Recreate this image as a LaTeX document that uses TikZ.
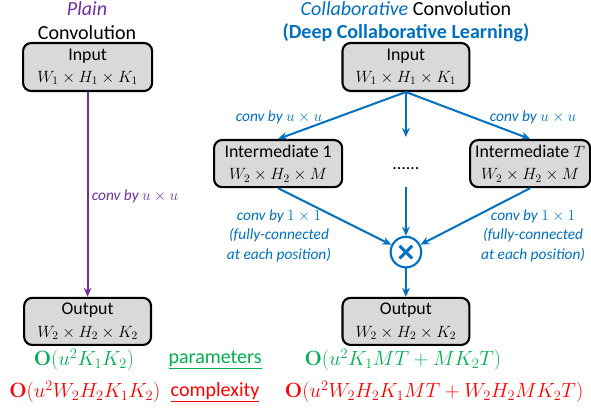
\RequirePackage{fix-cm}
\documentclass[tikz,border=0pt]{standalone}
\usepackage[no-math]{fontspec}
\setmainfont{Carlito}
\usetikzlibrary{arrows.meta}

\definecolor{collblue}{HTML}{0070C0}
\definecolor{plainpurple}{HTML}{7030A0}
\definecolor{paramgreen}{HTML}{00B050}
\definecolor{cplxred}{HTML}{FF0000}
\definecolor{boxgray}{HTML}{D9D9D9}

% Formel in eigener Groesse
\newcommand{\sizedmath}[2]{{\fontsize{#1}{#1}\selectfont$#2$}}

\begin{document}
\begin{tikzpicture}[
	databox/.style={
		draw,
		line width=2pt,
		fill=boxgray,
		rounded corners=0.27cm,
		align=center,
		inner sep=0pt,
		minimum height=1.57cm,
		font=\fontsize{16.9}{21}\selectfont
	},
	headline/.style={
		font=\fontsize{19}{22}\selectfont
	},
	convlabel/.style={
		align=center,
		font=\fontsize{14.6}{18.6}\selectfont\itshape
	},
	costline/.style={
		font=\fontsize{19}{22}\selectfont
	},
	flow/.style={
		line width=1.9pt,
		-{Stealth[length=0.3cm,width=0.26cm]}
	}
]
	\useasboundingbox (0,0) rectangle (19.7,13.733);

	% Ueberschriften
	\node[
		headline,
		color=plainpurple
	] (plainT) at (2.9,13.43) {\itshape Plain};
	\node[
		headline
	] (plainC) at (2.9,12.63) {Convolution};
	\node[
		headline
	] (collT) at (13.53,13.43) {\textcolor{collblue}{\itshape Collaborative} Convolution};
	\node[
		headline,
		color=collblue
	] (collD) at (13.53,12.63) {\bfseries (Deep Collaborative Learning)};

	% Eingaben
	\node[
		databox,
		minimum width=4.3cm,
		minimum height=1.6cm
	] (inL) at (2.92,11.5) {Input\\\sizedmath{15.5}{W_1\times H_1\times K_1}};
	\node[
		databox,
		minimum width=4.23cm,
		minimum height=1.6cm
	] (inR) at (13.53,11.5) {Input\\\sizedmath{15.5}{W_1\times H_1\times K_1}};

	% Zwischenergebnisse
	\node[
		databox,
		minimum width=4.27cm
	] (mid1) at (9.27,8.28) {Intermediate 1\\\sizedmath{15.5}{W_2\times H_2\times M}};
	\node[
		databox,
		minimum width=4.0cm
	] (midT) at (17.67,8.28) {Intermediate \sizedmath{15.5}{T}\\\sizedmath{15.5}{W_2\times H_2\times M}};
	\node[
		font=\fontsize{16.9}{21}\selectfont
	] (dots) at (13.53,8.13) {......};
	\coordinate (dotTop) at (13.53,9.17);
	\coordinate (dotBot) at (13.53,7.5);

	% Produkt
	\node[
		circle,
		draw=collblue,
		line width=2pt,
		minimum size=1.02cm,
		inner sep=0pt
	] (prod) at (13.53,5.33) {};
	\draw[
		color=collblue,
		line width=0.1cm
	] (prod.center) ++(-0.21,-0.21) -- ++(0.42,0.42);
	\draw[
		color=collblue,
		line width=0.1cm
	] (prod.center) ++(-0.21,0.21) -- ++(0.42,-0.42);

	% Ausgaben
	\node[
		databox,
		minimum width=4.23cm
	] (outL) at (2.92,3.02) {Output\\\sizedmath{15.5}{W_2\times H_2\times K_2}};
	\node[
		databox,
		minimum width=4.23cm
	] (outR) at (13.53,3.02) {Output\\\sizedmath{15.5}{W_2\times H_2\times K_2}};

	% Plain: ein Schritt
	\draw[
		flow,
		color=plainpurple
	] (inL.south) -- (outL.north);
	\node[
		convlabel,
		color=plainpurple
	] (plainLbl) at (4.5,7.2) {conv by \sizedmath{14.6}{u\times u}};

	% Collaborative: Aufspaltung
	\draw[
		flow,
		color=collblue
	] (inR.south) -- (mid1.north);
	\draw[
		flow,
		color=collblue
	] (inR.south) -- (midT.north);
	\draw[
		flow,
		color=collblue
	] (inR.south) -- (dotTop);
	\node[
		convlabel,
		color=collblue
	] (uuL) at (9.3,9.83) {conv by \sizedmath{14.6}{u\times u}};
	\node[
		convlabel,
		color=collblue
	] (uuR) at (17.77,9.83) {conv by \sizedmath{14.6}{u\times u}};

	% Collaborative: Zusammenfuehrung
	\draw[
		flow,
		color=collblue
	] (mid1.south) -- (prod);
	\draw[
		flow,
		color=collblue
	] (midT.south) -- (prod);
	\draw[
		flow,
		color=collblue
	] (dotBot) -- (prod);
	\draw[
		flow,
		color=collblue
	] (prod) -- (outR.north);
	\node[
		convlabel,
		color=collblue
	] (fcL) at (9.3,5.87) {conv by \sizedmath{14.6}{1\times 1}\\(fully-connected\\at each position)};
	\node[
		convlabel,
		color=collblue
	] (fcR) at (17.77,5.87) {conv by \sizedmath{14.6}{1\times 1}\\(fully-connected\\at each position)};

	% Kosten
	\node[
		costline,
		color=paramgreen
	] (parL) at (2.8,1.73) {\sizedmath{19.5}{\mathbf{O}(u^2K_1K_2)}};
	\node[
		costline,
		color=paramgreen
	] (parT) at (7.17,1.73) {\underline{parameters}};
	\node[
		costline,
		color=paramgreen
	] (parR) at (13.43,1.73) {\sizedmath{19.5}{\mathbf{O}(u^2K_1MT+MK_2T)}};
	\node[
		costline,
		color=cplxred
	] (cpxL) at (2.83,0.67) {\sizedmath{19.5}{\mathbf{O}(u^2W_2H_2K_1K_2)}};
	\node[
		costline,
		color=cplxred
	] (cpxT) at (7.17,0.67) {\underline{complexity}};
	\node[
		costline,
		color=cplxred
	] (cpxR) at (14.47,0.67) {\sizedmath{19.5}{\mathbf{O}(u^2W_2H_2K_1MT+W_2H_2MK_2T)}};

\end{tikzpicture}
\end{document}
